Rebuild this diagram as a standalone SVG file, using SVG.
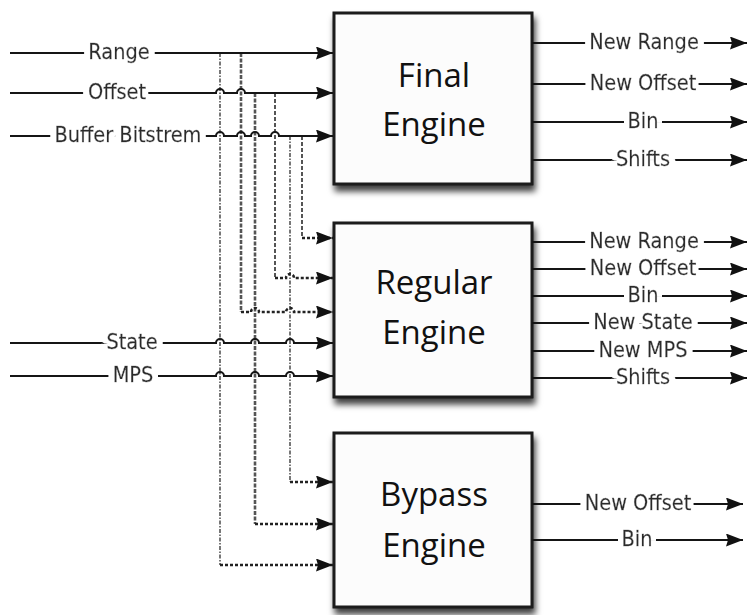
<svg xmlns="http://www.w3.org/2000/svg" width="751" height="615" viewBox="0 0 751 615">
<style>
.box{fill:#fcfcfc;stroke:#1a1a1a;stroke-width:3;filter:url(#sh)}
.eng{font-family:'Open Sans','Noto Sans',sans-serif;font-size:33px;fill:#111;text-anchor:middle}
.lbl{font-family:'DejaVu Sans Condensed','DejaVu Sans',sans-serif;font-stretch:condensed;font-size:21.5px;fill:#2a2a2a;stroke:#2a2a2a;stroke-width:0.35;text-anchor:middle;filter:url(#halo)}
.w{fill:none;stroke:#151515;stroke-width:2}
.dot{fill:none;stroke:#222;stroke-width:2.5;stroke-dasharray:3 2}
.vA{fill:none;stroke:#555;stroke-width:1.6;stroke-dasharray:4 1.5 1.5 1.5}
.vB{fill:none;stroke:#555;stroke-width:2.6;stroke-dasharray:4 1.5}
.vC{fill:none;stroke:#555;stroke-width:2;stroke-dasharray:4 2}
.arr{marker-end:url(#ah)}
</style>
<defs>
<marker id="ah" markerUnits="userSpaceOnUse" markerWidth="18" markerHeight="14" refX="17" refY="6.5" orient="auto">
<path d="M0,0 L17,6.5 L0,13 L2,6.5 z" fill="#111"/>
</marker>
<filter id="sh" x="-10%" y="-10%" width="125%" height="130%">
<feDropShadow dx="2" dy="6" stdDeviation="3" flood-color="#000" flood-opacity="0.75"/>
</filter>
<filter id="halo" x="-10%" y="-30%" width="120%" height="160%">
<feMorphology in="SourceAlpha" operator="dilate" radius="5.5 2" result="d"/>
<feFlood flood-color="#fff"/>
<feComposite in2="d" operator="in" result="bg"/>
<feMerge><feMergeNode in="bg"/><feMergeNode in="SourceGraphic"/></feMerge>
</filter>
</defs>

<g id="final-engine">
<rect class="box" x="334" y="13" width="198" height="171"/>
<text class="eng" x="434" y="87">Final</text>
<text class="eng" x="434" y="136">Engine</text>
</g>
<g id="regular-engine">
<rect class="box" x="334" y="223" width="198" height="174"/>
<text class="eng" x="434" y="294">Regular</text>
<text class="eng" x="434" y="344">Engine</text>
</g>
<g id="bypass-engine">
<rect class="box" x="334" y="433" width="198" height="174"/>
<text class="eng" x="434" y="506">Bypass</text>
<text class="eng" x="434" y="557">Engine</text>
</g>

<g id="connectors">
<path class="vA" d="M220,53 V565"/>
<path class="vB" d="M241,53 V312"/>
<path class="vB" d="M255,93 V524"/>
<path class="vC" d="M275,93 V278"/>
<path class="vA" d="M290,136 V482"/>
<path class="vC" d="M302,136 V238"/>

<path class="w arr" d="M10,53 H333"/>
<path class="w arr" d="M10,93 H216 a4,4 0 0 1 8,0 H237 a4,4 0 0 1 8,0 H333"/>
<path class="w arr" d="M10,136 H216 a4,4 0 0 1 8,0 H237 a4,4 0 0 1 8,0 H251 a4,4 0 0 1 8,0 H271 a4,4 0 0 1 8,0 H333"/>
<path class="w arr" d="M10,343 H216 a4,4 0 0 1 8,0 H251 a4,4 0 0 1 8,0 H286 a4,4 0 0 1 8,0 H333"/>
<path class="w arr" d="M10,376 H216 a4,4 0 0 1 8,0 H251 a4,4 0 0 1 8,0 H286 a4,4 0 0 1 8,0 H333"/>

<path class="dot arr" d="M302,238 H333"/>
<path class="dot arr" d="M275,278 H286 a4,4 0 0 1 8,0 H333"/>
<path class="dot arr" d="M241,312 H251 a4,4 0 0 1 8,0 H286 a4,4 0 0 1 8,0 H333"/>
<path class="dot arr" d="M290,482 H333"/>
<path class="dot arr" d="M255,524 H333"/>
<path class="dot arr" d="M220,565 H333"/>

<path class="w arr" d="M532,43 H747"/>
<path class="w arr" d="M532,84 H747"/>
<path class="w arr" d="M532,122 H747"/>
<path class="w arr" d="M532,160 H747"/>
<path class="w arr" d="M532,242 H747"/>
<path class="w arr" d="M532,269 H747"/>
<path class="w arr" d="M532,296 H747"/>
<path class="w arr" d="M532,323 H747"/>
<path class="w arr" d="M532,351 H747"/>
<path class="w arr" d="M532,378 H747"/>
<path class="w arr" d="M532,504 H743"/>
<path class="w arr" d="M532,540 H743"/>

<text class="lbl" x="119" y="59">Range</text>
<text class="lbl" x="117" y="99">Offset</text>
<text class="lbl" x="128" y="142">Buffer Bitstrem</text>
<text class="lbl" x="132" y="349">State</text>
<text class="lbl" x="133" y="382">MPS</text>

<text class="lbl" x="644" y="49">New Range</text>
<text class="lbl" x="643" y="90">New Offset</text>
<text class="lbl" x="643" y="128">Bin</text>
<text class="lbl" x="643" y="166">Shifts</text>

<text class="lbl" x="644" y="248">New Range</text>
<text class="lbl" x="643" y="275">New Offset</text>
<text class="lbl" x="643" y="302">Bin</text>
<text class="lbl" x="643" y="329">New State</text>
<text class="lbl" x="643" y="357">New MPS</text>
<text class="lbl" x="643" y="384">Shifts</text>

<text class="lbl" x="638" y="510">New Offset</text>
<text class="lbl" x="637" y="546">Bin</text>
</g>
</svg>
